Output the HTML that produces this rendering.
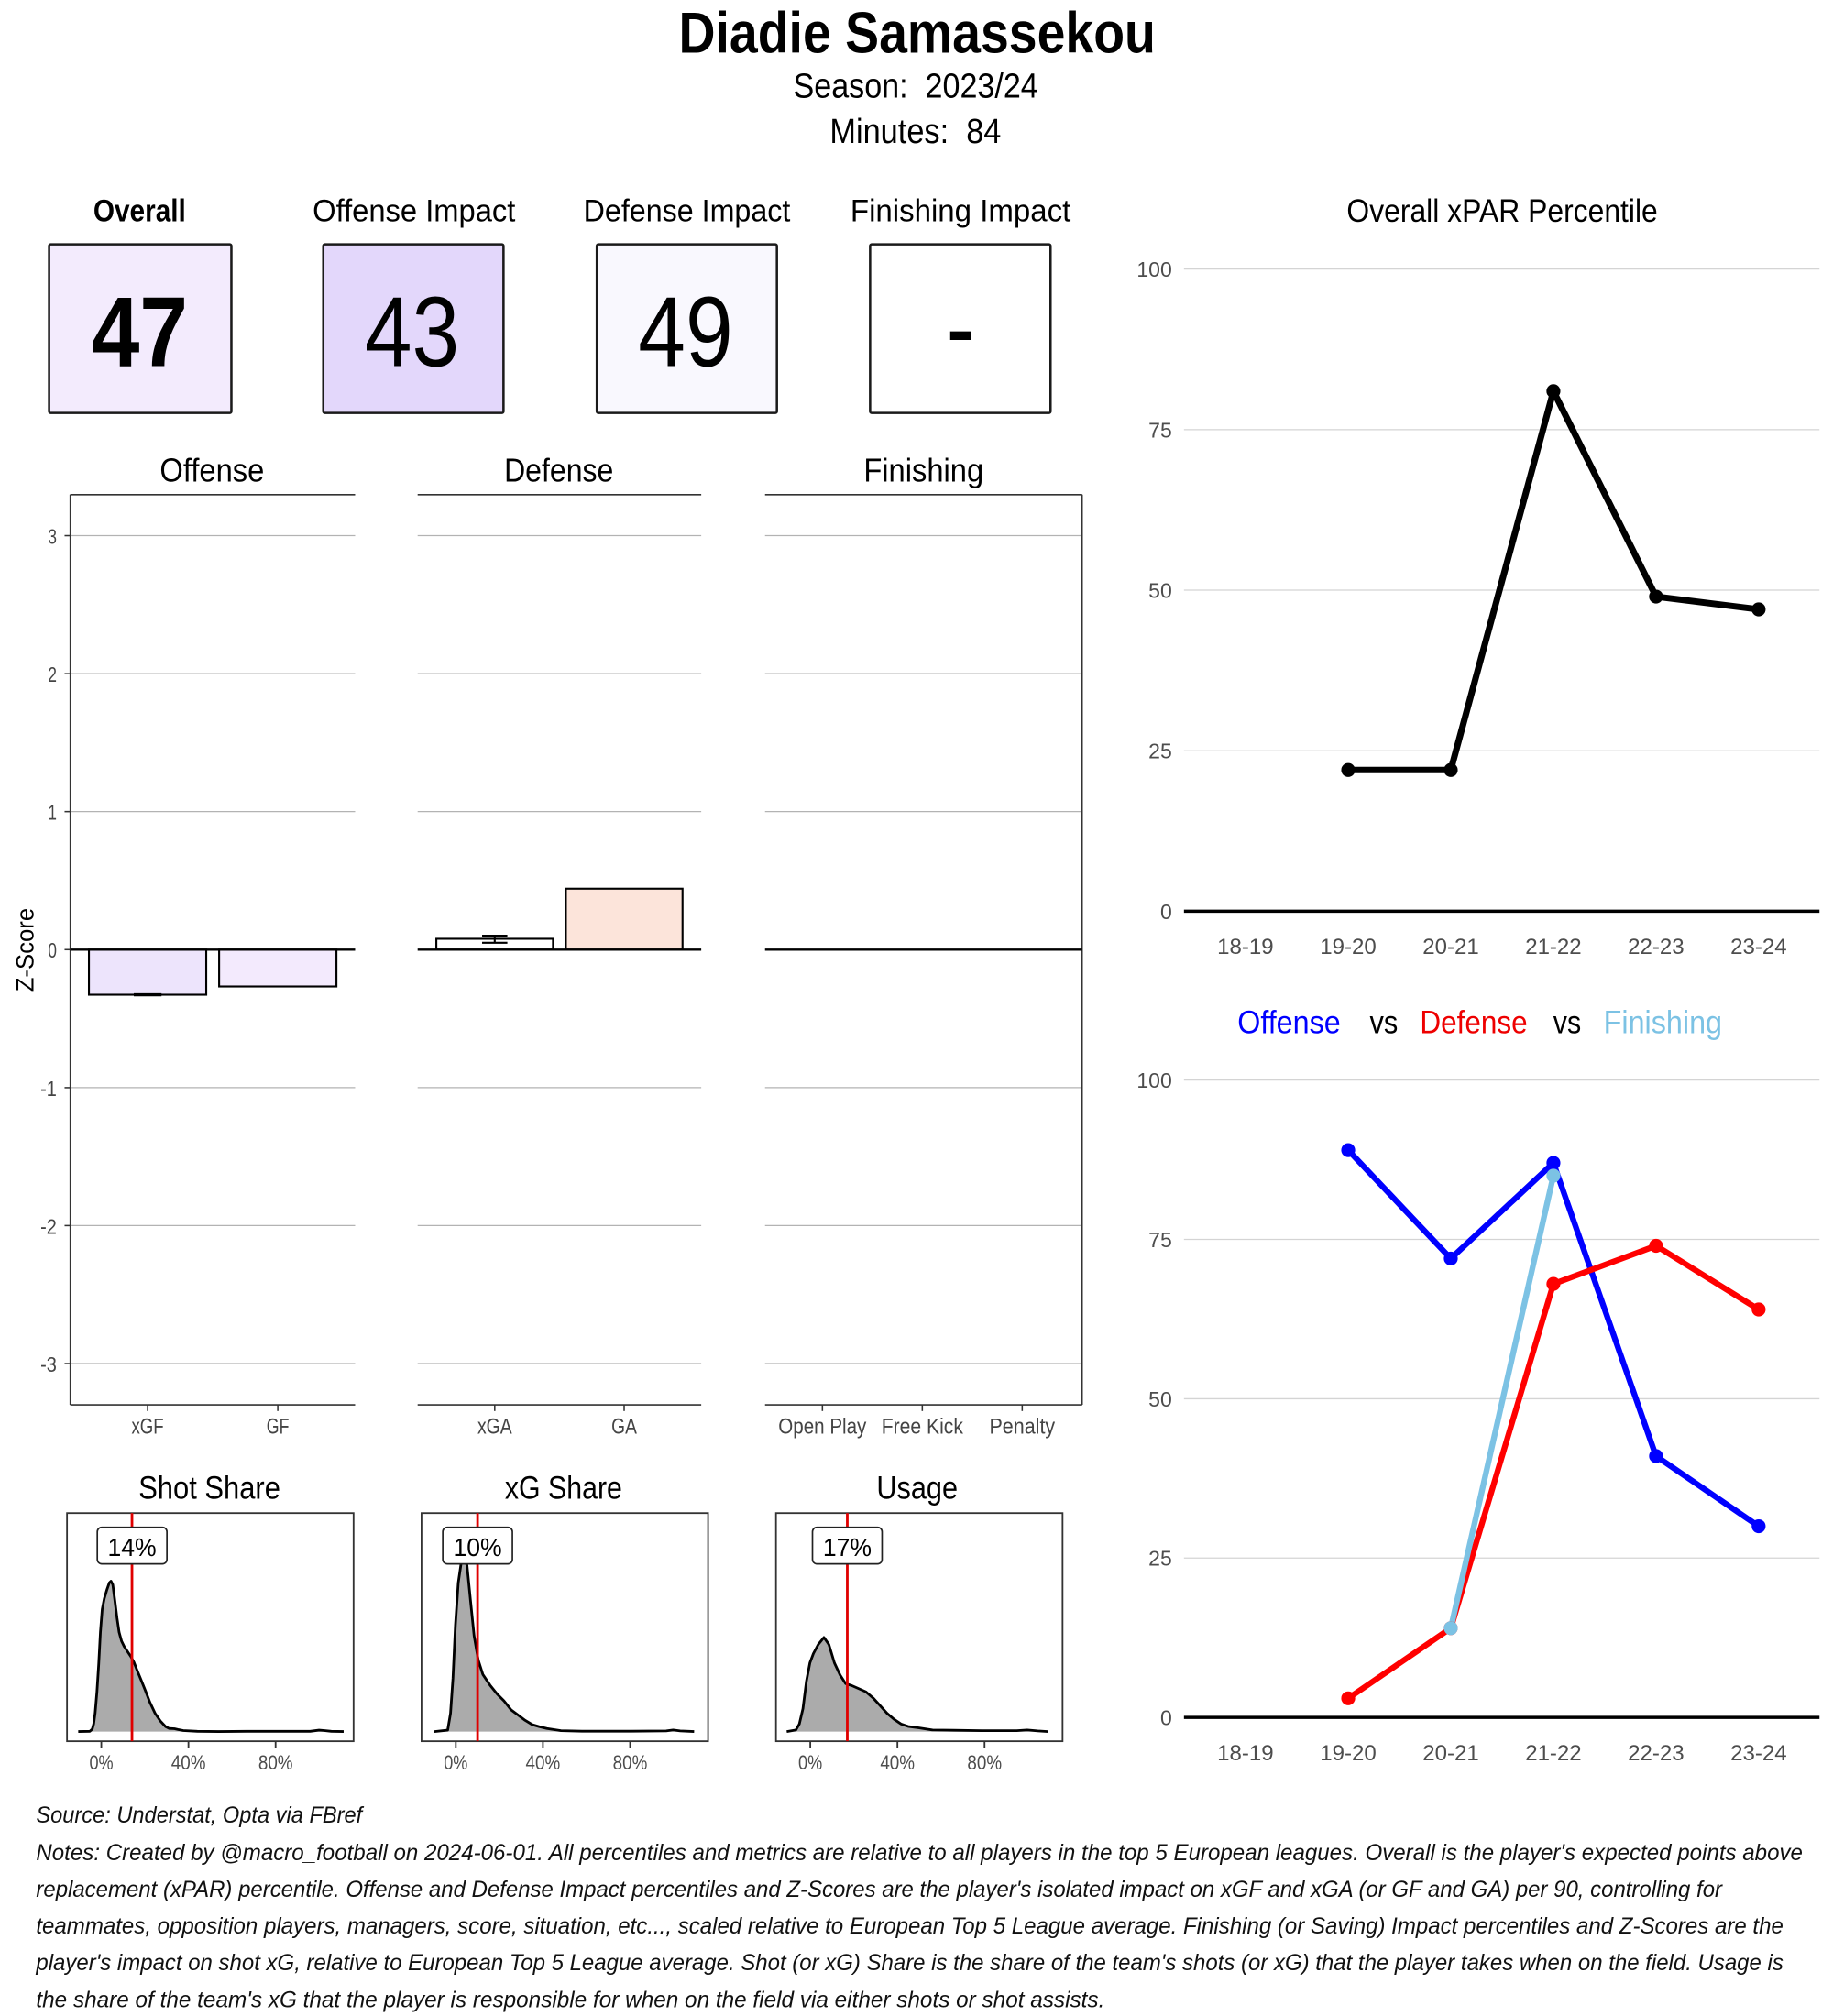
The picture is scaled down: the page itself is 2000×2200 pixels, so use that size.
<!DOCTYPE html>
<html><head><meta charset="utf-8"><style>
html,body{margin:0;padding:0;background:#fff;}
svg{display:block;}
.c{font-family:'Liberation Sans Narrow','Liberation Sans',sans-serif;}
.r{font-family:'Liberation Sans',sans-serif;}
</style></head><body>
<svg xmlns="http://www.w3.org/2000/svg" width="2000" height="2200" viewBox="0 0 1422 1564.2" preserveAspectRatio="none">
<rect x="0" y="0" width="1422" height="1564.2" fill="#fff"/>

<!-- Header -->
<text class="c" x="711.5" y="41" text-anchor="middle" font-size="44.6" font-weight="bold" textLength="370" lengthAdjust="spacingAndGlyphs">Diadie Samassekou</text>
<text class="c" x="710.4" y="75.6" text-anchor="middle" font-size="27" xml:space="preserve" textLength="190" lengthAdjust="spacingAndGlyphs">Season:  2023/24</text>
<text class="c" x="710.2" y="111" text-anchor="middle" font-size="27" xml:space="preserve" textLength="133" lengthAdjust="spacingAndGlyphs">Minutes:  84</text>

<!-- Score boxes -->
<g class="c" font-size="24.5" text-anchor="middle">
<text x="108.3" y="171.8" font-weight="bold" textLength="71.8" lengthAdjust="spacingAndGlyphs">Overall</text>
<text x="321.2" y="171.8" textLength="157.3" lengthAdjust="spacingAndGlyphs">Offense Impact</text>
<text x="532.9" y="171.8" textLength="160.5" lengthAdjust="spacingAndGlyphs">Defense Impact</text>
<text x="745.2" y="171.8" textLength="170.9" lengthAdjust="spacingAndGlyphs">Finishing Impact</text>
</g>
<g stroke="#1a1a1a" stroke-width="1.8">
<rect x="38.1" y="189.6" width="141.4" height="130.8" rx="1.2" fill="#f3ebfd"/>
<rect x="250.8" y="189.6" width="139.8" height="130.8" rx="1.2" fill="#e3d7fb"/>
<rect x="463" y="189.6" width="139.7" height="130.8" rx="1.2" fill="#f9f8fe"/>
<rect x="675" y="189.6" width="140" height="130.8" rx="1.2" fill="#ffffff"/>
</g>
<g class="c" text-anchor="middle" font-size="77">
<text x="108.3" y="284" font-weight="bold" textLength="75" lengthAdjust="spacingAndGlyphs">47</text>
<text x="319.6" y="284" textLength="73.4" lengthAdjust="spacingAndGlyphs">43</text>
<text x="531.8" y="284" textLength="73.5" lengthAdjust="spacingAndGlyphs">49</text>
<text x="745.2" y="283" font-size="85" textLength="22" lengthAdjust="spacingAndGlyphs">-</text>
</g>

<!-- Bar panels -->
<g stroke="#b3b3b3" stroke-width="0.9">
<line x1="54.5" y1="415.6" x2="275.5" y2="415.6"/><line x1="54.5" y1="522.7" x2="275.5" y2="522.7"/><line x1="54.5" y1="629.7" x2="275.5" y2="629.7"/><line x1="54.5" y1="843.9" x2="275.5" y2="843.9"/><line x1="54.5" y1="950.9" x2="275.5" y2="950.9"/><line x1="54.5" y1="1058" x2="275.5" y2="1058"/>
<line x1="324" y1="415.6" x2="544" y2="415.6"/><line x1="324" y1="522.7" x2="544" y2="522.7"/><line x1="324" y1="629.7" x2="544" y2="629.7"/><line x1="324" y1="843.9" x2="544" y2="843.9"/><line x1="324" y1="950.9" x2="544" y2="950.9"/><line x1="324" y1="1058" x2="544" y2="1058"/>
<line x1="593.5" y1="415.6" x2="839.5" y2="415.6"/><line x1="593.5" y1="522.7" x2="839.5" y2="522.7"/><line x1="593.5" y1="629.7" x2="839.5" y2="629.7"/><line x1="593.5" y1="843.9" x2="839.5" y2="843.9"/><line x1="593.5" y1="950.9" x2="839.5" y2="950.9"/><line x1="593.5" y1="1058" x2="839.5" y2="1058"/>
</g>
<g stroke="#333" stroke-width="1.1" fill="none">
<line x1="54.5" y1="383.8" x2="275.5" y2="383.8"/><line x1="54.5" y1="1090" x2="275.5" y2="1090"/><line x1="54.5" y1="383.8" x2="54.5" y2="1090"/>
<line x1="324" y1="383.8" x2="544" y2="383.8"/><line x1="324" y1="1090" x2="544" y2="1090"/>
<line x1="593.5" y1="383.8" x2="839.5" y2="383.8"/><line x1="593.5" y1="1090" x2="839.5" y2="1090"/><line x1="839.5" y1="383.8" x2="839.5" y2="1090"/>
<!-- y ticks -->
<line x1="50.1" y1="415.6" x2="54.5" y2="415.6"/><line x1="50.1" y1="522.7" x2="54.5" y2="522.7"/><line x1="50.1" y1="629.7" x2="54.5" y2="629.7"/><line x1="50.1" y1="736.8" x2="54.5" y2="736.8"/><line x1="50.1" y1="843.9" x2="54.5" y2="843.9"/><line x1="50.1" y1="950.9" x2="54.5" y2="950.9"/><line x1="50.1" y1="1058" x2="54.5" y2="1058"/>
<!-- x ticks -->
<line x1="114.5" y1="1090" x2="114.5" y2="1094.8"/><line x1="215.5" y1="1090" x2="215.5" y2="1094.8"/>
<line x1="383.8" y1="1090" x2="383.8" y2="1094.8"/><line x1="484.2" y1="1090" x2="484.2" y2="1094.8"/>
<line x1="638" y1="1090" x2="638" y2="1094.8"/><line x1="715.5" y1="1090" x2="715.5" y2="1094.8"/><line x1="793" y1="1090" x2="793" y2="1094.8"/>
</g>
<!-- bars -->
<g stroke="#000" stroke-width="1.5">
<rect x="69" y="736.8" width="91" height="35" fill="#ede4fc"/>
<rect x="170" y="736.8" width="91" height="28.6" fill="#f3eafd"/>
<rect x="338.5" y="728.4" width="90.5" height="8.4" fill="#ffffff"/>
<rect x="439" y="689.5" width="90.5" height="47.3" fill="#fce4da"/>
</g>
<g stroke="#000" stroke-width="1.5" fill="none">
<line x1="103.8" y1="771.8" x2="125.3" y2="771.8" stroke-width="2.4"/>
<line x1="374" y1="726" x2="393.6" y2="726"/><line x1="374" y1="731.5" x2="393.6" y2="731.5"/><line x1="383.8" y1="726" x2="383.8" y2="731.5"/>
<line x1="54.5" y1="736.8" x2="275.5" y2="736.8" stroke-width="1.7"/>
<line x1="324" y1="736.8" x2="544" y2="736.8" stroke-width="1.7"/>
<line x1="593.5" y1="736.8" x2="839.5" y2="736.8" stroke-width="1.7"/>
</g>
<g class="c" font-size="16.5" fill="#444" text-anchor="end">
<text x="44" y="421.9" textLength="6.8" lengthAdjust="spacingAndGlyphs">3</text>
<text x="44" y="529" textLength="6.8" lengthAdjust="spacingAndGlyphs">2</text>
<text x="44" y="636" textLength="6.8" lengthAdjust="spacingAndGlyphs">1</text>
<text x="44" y="743.1" textLength="6.8" lengthAdjust="spacingAndGlyphs">0</text>
<text x="44" y="850.2" textLength="12.6" lengthAdjust="spacingAndGlyphs">-1</text>
<text x="44" y="957.2" textLength="12.6" lengthAdjust="spacingAndGlyphs">-2</text>
<text x="44" y="1064.3" textLength="12.6" lengthAdjust="spacingAndGlyphs">-3</text>
</g>
<text class="c" transform="translate(26,737) rotate(-90)" text-anchor="middle" font-size="19" textLength="65" lengthAdjust="spacingAndGlyphs">Z-Score</text>
<g class="c" font-size="17" fill="#444" text-anchor="middle">
<text x="114.5" y="1112.5" textLength="25" lengthAdjust="spacingAndGlyphs">xGF</text>
<text x="215.5" y="1112.5" textLength="17.5" lengthAdjust="spacingAndGlyphs">GF</text>
<text x="383.8" y="1112.5" textLength="26.8" lengthAdjust="spacingAndGlyphs">xGA</text>
<text x="484.2" y="1112.5" textLength="19.7" lengthAdjust="spacingAndGlyphs">GA</text>
<text x="638" y="1112.5" textLength="68.3" lengthAdjust="spacingAndGlyphs">Open Play</text>
<text x="715.5" y="1112.5" textLength="63.4" lengthAdjust="spacingAndGlyphs">Free Kick</text>
<text x="793" y="1112.5" textLength="51" lengthAdjust="spacingAndGlyphs">Penalty</text>
</g>
<g class="c" font-size="25.4" text-anchor="middle">
<text x="164.5" y="373.5" textLength="81" lengthAdjust="spacingAndGlyphs">Offense</text>
<text x="433.5" y="373.5" textLength="84.8" lengthAdjust="spacingAndGlyphs">Defense</text>
<text x="716.5" y="373.5" textLength="93" lengthAdjust="spacingAndGlyphs">Finishing</text>
</g>

<!-- Density panels -->
<g class="c" font-size="25" text-anchor="middle">
<text x="162.5" y="1163" textLength="110" lengthAdjust="spacingAndGlyphs">Shot Share</text>
<text x="437.2" y="1163" textLength="91" lengthAdjust="spacingAndGlyphs">xG Share</text>
<text x="711.5" y="1163" textLength="63" lengthAdjust="spacingAndGlyphs">Usage</text>
</g>
<g fill="#ababab" stroke="#000" stroke-width="2" stroke-linejoin="round">
<path d="M60.7,1343.5 L69.7,1343.3 L71.6,1341.6 L72.7,1337.5 L73.8,1329.3 L75.2,1312.9 L76.6,1291 L77.9,1266.4 L79.3,1248.6 L80.9,1240.4 L82.9,1233.6 L84.8,1228.1 L86.1,1226.8 L87.5,1229.5 L89.1,1241.8 L90.8,1255.5 L92.4,1266.4 L94.3,1273.3 L96.3,1277.4 L99,1281.5 L101.7,1285.6 L103.9,1289.7 L106.6,1296.5 L109.4,1303.3 L112.7,1311.5 L116.2,1320.6 L120.3,1329.3 L124.4,1335.3 L128.5,1339.7 L131.3,1341.1 L135.4,1341.3 L138.1,1341.9 L142.2,1342.7 L153.1,1343.3 L169.5,1343.5 L191.4,1343.3 L218.8,1343.3 L240.6,1343.3 L247.5,1342.4 L251.6,1342.7 L257,1343.3 L266.6,1343.5"/>
<path d="M336.9,1343.5 L347.3,1342.4 L349.5,1329.3 L351.4,1302 L353.3,1260.9 L355.5,1228.1 L357.7,1213.1 L359.6,1209 L362.3,1214.5 L365,1241.8 L367.8,1269.2 L371.1,1288.3 L374.6,1299.2 L380.1,1307.4 L385.6,1314.3 L391,1319.7 L396.5,1326.6 L402,1330.7 L407.4,1334.8 L412.9,1338.1 L418.4,1339.7 L424.3,1341.1 L435.2,1342.8 L451.5,1343.2 L489.6,1343.2 L516.8,1343 L522.2,1342.3 L527.7,1343 L538.5,1343.5"/>
<path d="M610.3,1343.5 L617.4,1342.3 L620.1,1337.6 L622.9,1325.7 L625.6,1304.4 L628.3,1290.2 L631,1283 L634.8,1275.9 L639.2,1270.5 L643,1275.9 L647.3,1290.2 L651.7,1299.6 L656,1306.3 L660.9,1307.9 L666.4,1310.3 L671.8,1312.7 L677.3,1317.4 L682.7,1323.3 L688.1,1329.3 L693.6,1334 L699,1337.6 L704.5,1339.5 L712.6,1340.6 L723.5,1342.3 L739.8,1342.5 L761.6,1342.8 L788.8,1342.8 L796.9,1342.3 L805.1,1343 L813.2,1343.5"/>
</g>
<g fill="none" stroke="#333" stroke-width="1.3">
<rect x="52" y="1174" width="222.3" height="177"/>
<rect x="327" y="1174" width="222.3" height="177"/>
<rect x="602" y="1174" width="222.3" height="177"/>
<line x1="78.6" y1="1351" x2="78.6" y2="1356"/><line x1="146.2" y1="1351" x2="146.2" y2="1356"/><line x1="213.8" y1="1351" x2="213.8" y2="1356"/>
<line x1="353.6" y1="1351" x2="353.6" y2="1356"/><line x1="421.2" y1="1351" x2="421.2" y2="1356"/><line x1="488.8" y1="1351" x2="488.8" y2="1356"/>
<line x1="628.6" y1="1351" x2="628.6" y2="1356"/><line x1="696.2" y1="1351" x2="696.2" y2="1356"/><line x1="763.8" y1="1351" x2="763.8" y2="1356"/>
</g>
<g stroke="#e00000" stroke-width="2">
<line x1="102.4" y1="1174" x2="102.4" y2="1351"/>
<line x1="370.5" y1="1174" x2="370.5" y2="1351"/>
<line x1="657.3" y1="1174" x2="657.3" y2="1351"/>
</g>
<g fill="#fff" stroke="#222" stroke-width="1.2">
<rect x="75.5" y="1185" width="54" height="28.4" rx="3.5"/>
<rect x="343.5" y="1185" width="54" height="28.4" rx="3.5"/>
<rect x="630.3" y="1185" width="54" height="28.4" rx="3.5"/>
</g>
<g class="r" font-size="20" text-anchor="middle">
<text x="102.4" y="1207.3" textLength="37.8" lengthAdjust="spacingAndGlyphs">14%</text>
<text x="370.5" y="1207.3" textLength="37.8" lengthAdjust="spacingAndGlyphs">10%</text>
<text x="657.3" y="1207.3" textLength="37.8" lengthAdjust="spacingAndGlyphs">17%</text>
</g>
<g class="c" font-size="15.5" fill="#4d4d4d" text-anchor="middle">
<text x="78.6" y="1373" textLength="18.6" lengthAdjust="spacingAndGlyphs">0%</text>
<text x="146.2" y="1373" textLength="26.8" lengthAdjust="spacingAndGlyphs">40%</text>
<text x="213.8" y="1373" textLength="26.8" lengthAdjust="spacingAndGlyphs">80%</text>
<text x="353.6" y="1373" textLength="18.6" lengthAdjust="spacingAndGlyphs">0%</text>
<text x="421.2" y="1373" textLength="26.8" lengthAdjust="spacingAndGlyphs">40%</text>
<text x="488.8" y="1373" textLength="26.8" lengthAdjust="spacingAndGlyphs">80%</text>
<text x="628.6" y="1373" textLength="18.6" lengthAdjust="spacingAndGlyphs">0%</text>
<text x="696.2" y="1373" textLength="26.8" lengthAdjust="spacingAndGlyphs">40%</text>
<text x="763.8" y="1373" textLength="26.8" lengthAdjust="spacingAndGlyphs">80%</text>
</g>

<!-- Upper right chart -->
<text class="r" x="1165.4" y="172" text-anchor="middle" font-size="25.2" textLength="241.3" lengthAdjust="spacingAndGlyphs">Overall xPAR Percentile</text>
<g stroke="#d4d4d4" stroke-width="0.9">
<line x1="918.5" y1="208.8" x2="1411.5" y2="208.8"/><line x1="918.5" y1="333.4" x2="1411.5" y2="333.4"/><line x1="918.5" y1="457.9" x2="1411.5" y2="457.9"/><line x1="918.5" y1="582.5" x2="1411.5" y2="582.5"/>
</g>
<line x1="918.5" y1="707" x2="1411.5" y2="707" stroke="#000" stroke-width="2.5"/>
<g class="r" font-size="16.5" fill="#4d4d4d" text-anchor="end">
<text x="909.2" y="214.8" textLength="27.3" lengthAdjust="spacingAndGlyphs">100</text>
<text x="909.2" y="339.4" textLength="18.2" lengthAdjust="spacingAndGlyphs">75</text>
<text x="909.2" y="463.9" textLength="18.2" lengthAdjust="spacingAndGlyphs">50</text>
<text x="909.2" y="588.5" textLength="18.2" lengthAdjust="spacingAndGlyphs">25</text>
<text x="909.2" y="713" textLength="9.1" lengthAdjust="spacingAndGlyphs">0</text>
</g>
<g class="r" font-size="17" fill="#4d4d4d" text-anchor="middle">
<text x="966.2" y="740" textLength="43.7" lengthAdjust="spacingAndGlyphs">18-19</text>
<text x="1045.9" y="740" textLength="43.7" lengthAdjust="spacingAndGlyphs">19-20</text>
<text x="1125.5" y="740" textLength="43.7" lengthAdjust="spacingAndGlyphs">20-21</text>
<text x="1205.1" y="740" textLength="43.7" lengthAdjust="spacingAndGlyphs">21-22</text>
<text x="1284.7" y="740" textLength="43.7" lengthAdjust="spacingAndGlyphs">22-23</text>
<text x="1364.3" y="740" textLength="43.7" lengthAdjust="spacingAndGlyphs">23-24</text>
</g>
<path d="M1045.9,597.4 L1125.5,597.4 L1205.1,303.5 L1284.7,462.9 L1364.3,472.8" fill="none" stroke="#000" stroke-width="5" stroke-linejoin="round"/>
<g fill="#000">
<circle cx="1045.9" cy="597.4" r="5.4"/><circle cx="1125.5" cy="597.4" r="5.4"/><circle cx="1205.1" cy="303.5" r="5.4"/><circle cx="1284.7" cy="462.9" r="5.4"/><circle cx="1364.3" cy="472.8" r="5.4"/>
</g>

<!-- Lower right chart -->
<g class="r" font-size="25.2">
<text x="960" y="801.5" fill="#0000ff" textLength="80" lengthAdjust="spacingAndGlyphs">Offense</text>
<text x="1062.6" y="801.5" fill="#000" textLength="21.9" lengthAdjust="spacingAndGlyphs">vs</text>
<text x="1101.6" y="801.5" fill="#ee0000" textLength="83.4" lengthAdjust="spacingAndGlyphs">Defense</text>
<text x="1205" y="801.5" fill="#000" textLength="21.6" lengthAdjust="spacingAndGlyphs">vs</text>
<text x="1244" y="801.5" fill="#7cc2e4" textLength="92" lengthAdjust="spacingAndGlyphs">Finishing</text>
</g>
<g stroke="#d4d4d4" stroke-width="0.9">
<line x1="918.5" y1="838" x2="1411.5" y2="838"/><line x1="918.5" y1="961.6" x2="1411.5" y2="961.6"/><line x1="918.5" y1="1085.3" x2="1411.5" y2="1085.3"/><line x1="918.5" y1="1208.9" x2="1411.5" y2="1208.9"/>
</g>
<line x1="918.5" y1="1332.5" x2="1411.5" y2="1332.5" stroke="#000" stroke-width="2.5"/>
<g class="r" font-size="16.5" fill="#4d4d4d" text-anchor="end">
<text x="909.2" y="844" textLength="27.3" lengthAdjust="spacingAndGlyphs">100</text>
<text x="909.2" y="967.6" textLength="18.2" lengthAdjust="spacingAndGlyphs">75</text>
<text x="909.2" y="1091.3" textLength="18.2" lengthAdjust="spacingAndGlyphs">50</text>
<text x="909.2" y="1214.9" textLength="18.2" lengthAdjust="spacingAndGlyphs">25</text>
<text x="909.2" y="1338.5" textLength="9.1" lengthAdjust="spacingAndGlyphs">0</text>
</g>
<g class="r" font-size="17" fill="#4d4d4d" text-anchor="middle">
<text x="966.2" y="1366" textLength="43.7" lengthAdjust="spacingAndGlyphs">18-19</text>
<text x="1045.9" y="1366" textLength="43.7" lengthAdjust="spacingAndGlyphs">19-20</text>
<text x="1125.5" y="1366" textLength="43.7" lengthAdjust="spacingAndGlyphs">20-21</text>
<text x="1205.1" y="1366" textLength="43.7" lengthAdjust="spacingAndGlyphs">21-22</text>
<text x="1284.7" y="1366" textLength="43.7" lengthAdjust="spacingAndGlyphs">22-23</text>
<text x="1364.3" y="1366" textLength="43.7" lengthAdjust="spacingAndGlyphs">23-24</text>
</g>
<g fill="none" stroke-width="4.5" stroke-linejoin="round">
<path d="M1045.9,892.4 L1125.5,976.5 L1205.1,902.3 L1284.7,1129.8 L1364.3,1184.2" stroke="#0000ff"/>
<path d="M1045.9,1317.7 L1125.5,1263.3 L1205.1,996.2 L1284.7,966.6 L1364.3,1016" stroke="#ff0000"/>
<path d="M1125.5,1263.3 L1205.1,912.2" stroke="#7cc2e4"/>
</g>
<g fill="#0000ff">
<circle cx="1045.9" cy="892.4" r="5.4"/><circle cx="1125.5" cy="976.5" r="5.4"/><circle cx="1205.1" cy="902.3" r="5.4"/><circle cx="1284.7" cy="1129.8" r="5.4"/><circle cx="1364.3" cy="1184.2" r="5.4"/>
</g>
<g fill="#ff0000">
<circle cx="1045.9" cy="1317.7" r="5.4"/><circle cx="1125.5" cy="1263.3" r="5.4"/><circle cx="1205.1" cy="996.2" r="5.4"/><circle cx="1284.7" cy="966.6" r="5.4"/><circle cx="1364.3" cy="1016" r="5.4"/>
</g>
<g fill="#7cc2e4">
<circle cx="1125.5" cy="1263.3" r="5.4"/><circle cx="1205.1" cy="912.2" r="5.4"/>
</g>

<!-- Footnotes -->
<g class="c" font-size="17.6" font-style="italic" fill="#111">
<text x="28" y="1414.2" textLength="253" lengthAdjust="spacingAndGlyphs">Source: Understat, Opta via FBref</text>
<text x="28" y="1443.3" textLength="1370.5" lengthAdjust="spacingAndGlyphs">Notes: Created by @macro_football on 2024-06-01. All percentiles and metrics are relative to all players in the top 5 European leagues. Overall is the player's expected points above</text>
<text x="28" y="1471.8" textLength="1308" lengthAdjust="spacingAndGlyphs">replacement (xPAR) percentile. Offense and Defense Impact percentiles and Z-Scores are the player's isolated impact on xGF and xGA (or GF and GA) per 90, controlling for</text>
<text x="28" y="1500.3" textLength="1355.5" lengthAdjust="spacingAndGlyphs">teammates, opposition players, managers, score, situation, etc..., scaled relative to European Top 5 League average. Finishing (or Saving) Impact percentiles and Z-Scores are the</text>
<text x="28" y="1528.8" textLength="1355.5" lengthAdjust="spacingAndGlyphs">player's impact on shot xG, relative to European Top 5 League average. Shot (or xG) Share is the share of the team's shots (or xG) that the player takes when on the field. Usage is</text>
<text x="28" y="1557.3" textLength="829" lengthAdjust="spacingAndGlyphs">the share of the team's xG that the player is responsible for when on the field via either shots or shot assists.</text>
</g>
</svg>
</body></html>
